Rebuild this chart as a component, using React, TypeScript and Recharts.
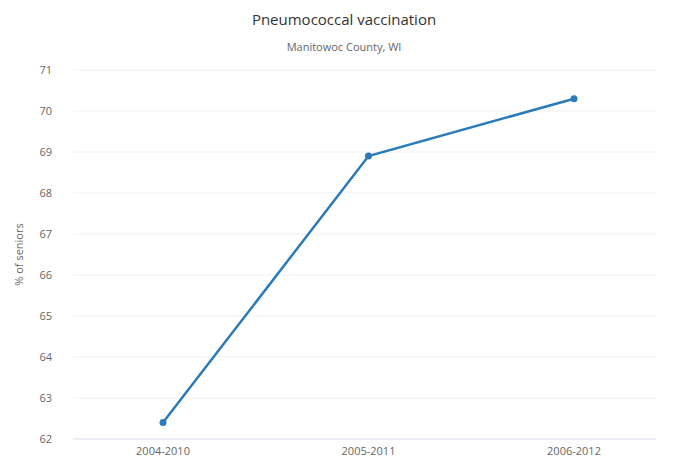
import React from 'react';
import { LineChart, Line, XAxis, YAxis, CartesianGrid } from 'recharts';

const periods = ['2004-2010', '2005-2011', '2006-2012'];
const seniorsPct = [62.4, 68.9, 70.3];
const yTicks = [62, 63, 64, 65, 66, 67, 68, 69, 70, 71];

const chartData = periods.map((period, i) => ({ period, value: seniorsPct[i] }));

const font = '"Open Sans", "DejaVu Sans", sans-serif';

const App: React.FC = () => {
  return (
    <div style={{ position: 'absolute', left: 0, top: 0, width: 688, height: 462, background: '#fff', fontFamily: font }}>
      <div style={{ position: 'absolute', top: 9, width: 688, textAlign: 'center', fontSize: 15, color: '#333' }}>
        Pneumococcal vaccination
      </div>
      <div style={{ position: 'absolute', top: 39, width: 688, textAlign: 'center', fontSize: 11, color: '#666' }}>
        Manitowoc County, WI
      </div>
      <LineChart
        width={688}
        height={462}
        data={chartData}
        margin={{ top: 70, right: 32, left: 0, bottom: 0 }}
      >
        <CartesianGrid vertical={false} stroke="#f0f0f0" />
        <XAxis
          dataKey="period"
          scale="point"
          padding={{ left: 90, right: 82 }}
          height={23}
          tickLine={false}
          axisLine={{ stroke: '#dde3ee' }}
          tick={{ fontSize: 11, fill: '#666', fontFamily: font }}
        />
        <YAxis
          domain={[62, 71]}
          ticks={yTicks}
          width={73}
          tickLine={false}
          axisLine={false}
          tickMargin={15}
          tick={{ fontSize: 11, fill: '#666', fontFamily: font }}
          label={{
            value: '% of seniors',
            angle: -90,
            position: 'insideLeft',
            offset: 19,
            style: { textAnchor: 'middle', fontSize: 11, fill: '#666', fontFamily: font },
          }}
        />
        <Line
          type="linear"
          dataKey="value"
          stroke="#2b7bba"
          strokeWidth={2.5}
          dot={{ r: 3.5, fill: '#2b7bba', stroke: '#2b7bba', strokeWidth: 0 }}
          isAnimationActive={false}
        />
      </LineChart>
    </div>
  );
};

export default App;
